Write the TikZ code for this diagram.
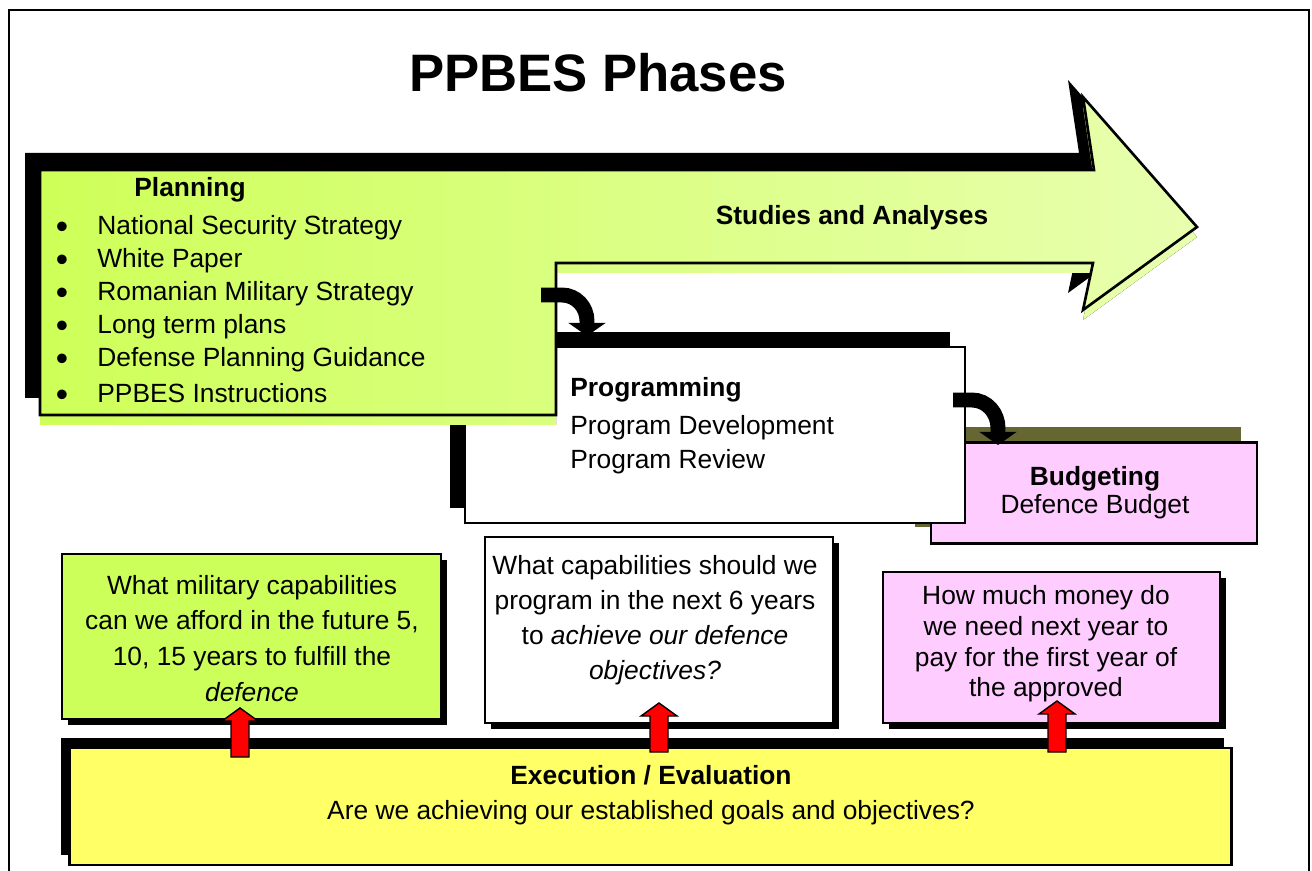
\documentclass[tikz,border=0pt]{standalone}
\usepackage{fontspec}
\setmainfont{Liberation Sans}
\usetikzlibrary{arrows.meta,shadows}
\definecolor{leftgreen}{RGB}{206,255,88}
\definecolor{rightgreen}{RGB}{232,255,175}
\definecolor{plangreen}{RGB}{204,255,90}
\definecolor{budgpink}{RGB}{255,204,255}
\definecolor{execyellow}{RGB}{255,255,102}
\definecolor{budgshadow}{RGB}{102,102,51}
\tikzstyle{txt} = [font=\fontsize{15}{18}\selectfont, inner sep=0pt]
\tikzstyle{txtb} = [font=\fontsize{15}{18}\selectfont\bfseries, inner sep=0pt]
\tikzstyle{bullet} = [font=\fontsize{20}{20}\selectfont, inner sep=0pt]
\tikzstyle{phase} = [rectangle, draw=black, line width=1.6pt, inner sep=0pt]
\tikzstyle{question} = [rectangle, draw=black, line width=1.4pt, inner sep=0pt,
general shadow={fill=black, shadow xshift=0.12cm, shadow yshift=-0.12cm}]
\tikzstyle{hook} = [line width=8.5pt, -{Triangle[length=7.5pt,width=21pt]}]
\tikzstyle{uparrow} = [draw=black, fill=red, line width=0.8pt, line join=miter]
\tikzset{bigarrow/.style={insert path={(40,170) -- (1094,170) -- (1083,97) -- (1197,227)
-- (1083,310) -- (1093,263) -- (556,263) -- (556,415) -- (40,415) -- cycle}}}
\newcommand{\redup}[3]{\draw[uparrow] (#1-9,#2) -- (#1-9,#3+13) -- (#1-18,#3+13) -- (#1,#3)
-- (#1+18,#3+13) -- (#1+9,#3+13) -- (#1+9,#2) -- cycle;}

\begin{document}
\begin{tikzpicture}[x=0.02cm, y=-0.02cm]
	\useasboundingbox (0,0) rectangle (1312,871);
	\draw[line width=1.1pt] (9,10) rectangle (1309,890);
	\node[inner sep=0pt, font=\fontsize{30}{36}\selectfont\bfseries, anchor=base] (title) at (598,92) {PPBES Phases};

	% budgeting
	\node[phase, fill=budgpink, minimum width=6.52cm, minimum height=2.02cm,
		general shadow={fill=budgshadow, shadow xshift=-0.32cm, shadow yshift=0.32cm}] (budg) at (1094,493) {};
	\node[txtb, anchor=base] (budg-t) at (1095,485) {Budgeting};
	\node[txt, anchor=base] (budg-s) at (1095,513) {Defence Budget};

	% programming
	\node[phase, fill=white, minimum width=10cm, minimum height=3.52cm,
		general shadow={fill=black, shadow xshift=-0.3cm, shadow yshift=0.3cm}] (prog) at (715,435) {};
	\node[txtb, anchor=base west] (prog-t) at (570,397) {Programming};
	\node[txt, anchor=base west] (prog-d) at (570,435) {Program Development};
	\node[txt, anchor=base west] (prog-r) at (570,469) {Program Review};

	% planning and studies arrow
	\fill[black, shift={(-15,-17)}, bigarrow];
	\fill[left color=leftgreen, right color=rightgreen, shift={(0,10)}, bigarrow];
	\draw[line width=1.5pt, left color=leftgreen, right color=rightgreen, bigarrow];
	\node[txtb, anchor=base] (plan-t) at (190,197) {Planning};
	\foreach \y/\lbl [count=\i] in {235/National Security Strategy, 268/White Paper,
		301/Romanian Military Strategy, 334/Long term plans,
		367/Defense Planning Guidance, 403/PPBES Instructions} {
		\node[bullet, anchor=base] (bul\i) at (62,\y+4) {\textbullet};
		\node[txt, anchor=base west] (plan\i) at (97,\y) {\lbl};
	}
	\node[txtb, anchor=base] (studies) at (852,225) {Studies and Analyses};

	% hooks between phases
	\coordinate (h1s) at (541,295);
	\coordinate (h1e) at (587,336);
	\draw[hook] (h1s) -- ++(21,0) to[out=0,in=90] ++(25,26) -- (h1e);
	\coordinate (h2s) at (953,400);
	\coordinate (h2e) at (998,445);
	\draw[hook] (h2s) -- ++(19,0) to[out=0,in=90] ++(26,28) -- (h2e);

	% questions
	\node[question, fill=plangreen, minimum width=7.58cm, minimum height=3.3cm] (qplan) at (251.5,636.5) {};
	\node[txt, align=center, font=\fontsize{15}{20.4}\selectfont] (qplan-t) at (252,638.5)
		{What military capabilities\\can we afford in the future 5,\\10, 15 years to fulfill the\\\textit{defence}};
	\node[question, fill=white, minimum width=6.96cm, minimum height=3.72cm] (qprog) at (659,630) {};
	\node[txt, align=center, font=\fontsize{15}{19.9}\selectfont] (qprog-t) at (655,620.5)
		{What capabilities should we\\program in the next 6 years\\to \textit{achieve our defence}\\\textit{objectives?}};
	\node[question, fill=budgpink, minimum width=6.74cm, minimum height=3.02cm] (qbudg) at (1051.5,647.5) {};
	\node[txt, align=center, font=\fontsize{15}{17.4}\selectfont] (qbudg-t) at (1046,644)
		{How much money do\\we need next year to\\pay for the first year of\\the approved};

	% execution
	\node[phase, fill=execyellow, minimum width=23.26cm, minimum height=2.34cm,
		general shadow={fill=black, shadow xshift=-0.16cm, shadow yshift=0.2cm}] (exec) at (650.5,806.5) {};
	\node[txtb, anchor=base] (exec-t) at (651,784) {Execution / Evaluation};
	\node[txt, anchor=base] (exec-q) at (651,819) {Are we achieving our established goals and objectives?};

	\redup{240}{757}{708}
	\redup{659}{752}{703}
	\redup{1057}{752}{701}
\end{tikzpicture}
\end{document}
